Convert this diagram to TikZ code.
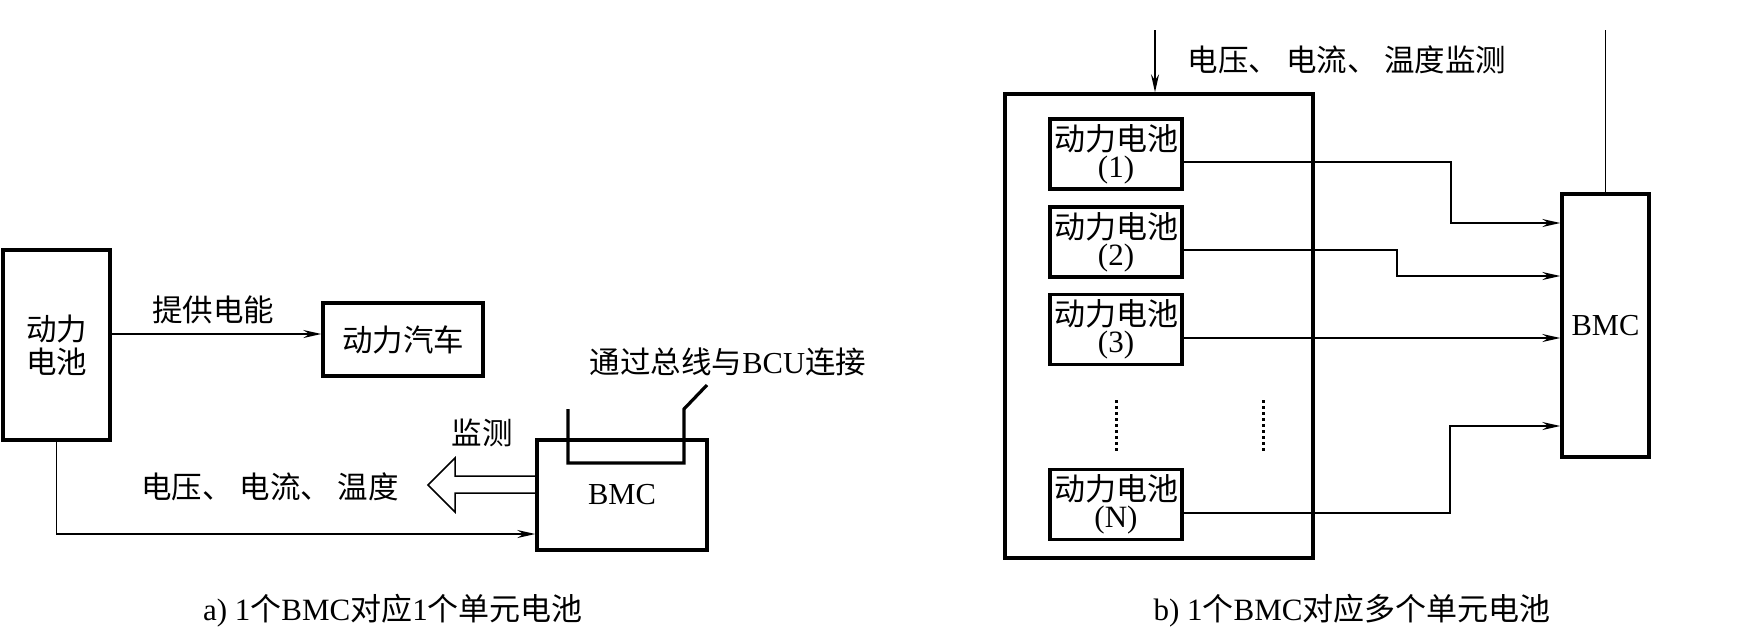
\documentclass[tikz,border=0pt]{standalone}
\usepackage{fontspec}
\setmainfont{Liberation Serif}
\newfontfamily\cjk{Noto Sans CJK SC}
\usetikzlibrary{arrows.meta,calc}
\newcommand\zh[1]{{\cjk #1}}
\begin{document}
\begin{tikzpicture}[x=1pt,y=-1pt,
  box/.style={draw, line width=3.4pt, inner sep=0pt, align=center},
  wire/.style={line width=1.8pt},
  arr/.style={wire, -{Stealth[length=18pt,width=8pt,inset=6pt]}},
  lbl/.style={inner sep=0pt},
  cell/.style={box, minimum width=132pt, minimum height=70pt, font=\fontsize{31}{27}\selectfont},
  every node/.style={font=\fontsize{30.5}{33}\selectfont}]
\useasboundingbox (0,0) rectangle (1757,630);

% ---------- part a ----------
\node[box, minimum width=107pt, minimum height=190pt] (bat) at (56.5,345) {\zh{动力}\\\zh{电池}};
\node[box, minimum width=160pt, minimum height=73pt] (car) at (403,339.5) {\zh{动力汽车}};
\coordinate (ya) at (0,334);
\draw[arr] (bat.east |- ya) -- (car.west |- ya);
\node[lbl] (tgdn) at (213,310) {\zh{提供电能}};

\node[box, minimum width=170pt, minimum height=110pt] (bmc1) at (622,495) {BMC};
\coordinate (yb) at (0,534);
\draw[arr] (bat.south) |- (bmc1.west |- yb);

% bus connection
\coordinate (u1) at (568,409);
\coordinate (u2) at (568,463);
\coordinate (u3) at (684,463);
\coordinate (u4) at (684,409);
\coordinate (u5) at (707,385);
\draw[line width=3.2pt, line join=miter] (u1) -- (u2) -- (u3) -- (u4) -- (u5);
\node[lbl] (bus) at (728,362) {\zh{通过总线与}BCU\zh{连接}};

% hollow arrow
\draw[line width=1.5pt, line join=miter] (bmc1.west |- 0,476) -- (455,476) -- (455,458) -- (428,485)
  -- (455,512) -- (455,493) -- (bmc1.west |- 0,493);
\node[lbl] (jc) at (482,433) {\zh{监测}};
\node[lbl] (vit) at (270,487) {\zh{电压、\ 电流、\ 温度}};

\node[lbl, font=\fontsize{31}{32}\selectfont] (capa) at (393,611) {a) 1\zh{个}BMC\zh{对应}1\zh{个单元电池}};

% ---------- part b ----------
\node[box, minimum width=308pt, minimum height=464pt] (pack) at (1159,326) {};
\coordinate (ptop) at (1155,30);
\draw[arr] (ptop) -- (ptop |- pack.north);
\node[lbl] (vitb) at (1347,60) {\zh{电压、\ 电流、\ 温度监测}};

\node[cell] (c1) at (1116,154) {\zh{动力电池}\\(1)};
\node[cell] (c2) at (1116,242) {\zh{动力电池}\\(2)};
\node[cell] (c3) at (1116,329.5) {\zh{动力电池}\\(3)};
\node[cell] (cn) at (1116,504.5) {\zh{动力电池}\\(N)};

\draw[line width=3pt, dash pattern=on 2.5pt off 3.5pt] (1116,400) -- (1116,452);
\draw[line width=3pt, dash pattern=on 2.5pt off 3.5pt] (1263,400) -- (1263,452);

\node[box, minimum width=87pt, minimum height=263pt] (bmc2) at (1605.5,325.5) {BMC};
\coordinate (btop) at (1605.5,30);
\draw[wire] (btop) -- (bmc2.north);

\draw[arr] ($(c1.east)+(0,8)$) -| (1451,223) -- (bmc2.west |- 0,223);
\draw[arr] ($(c2.east)+(0,8)$) -| (1397,276) -- (bmc2.west |- 0,276);
\draw[arr] ($(c3.east)+(0,8.5)$) -- (bmc2.west |- 0,338);
\draw[arr] ($(cn.east)+(0,8.5)$) -| (1450,426) -- (bmc2.west |- 0,426);

\node[lbl, font=\fontsize{31}{32}\selectfont] (capb) at (1352,611) {b) 1\zh{个}BMC\zh{对应多个单元电池}};
\end{tikzpicture}
\end{document}
